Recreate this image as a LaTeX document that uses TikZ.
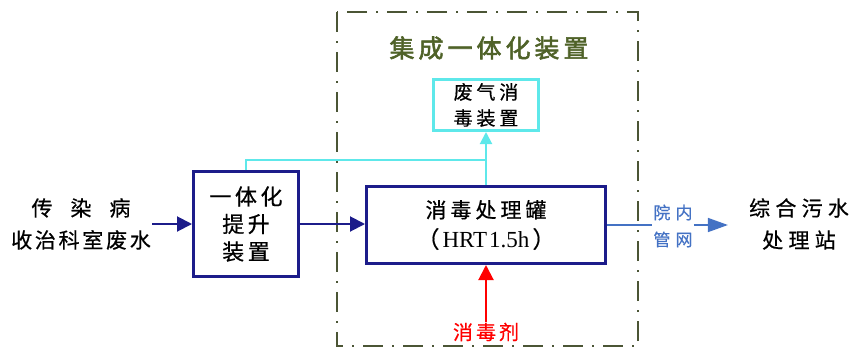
\documentclass[tikz,border=0pt]{standalone}
\usepackage{fontspec}
\setmainfont{Liberation Serif}
\newfontfamily\cjk{Noto Sans CJK SC}[FakeBold=0.6]
\newfontfamily\cjkb{Noto Sans CJK SC}[FakeBold=2.2]
\usetikzlibrary{arrows.meta}
\definecolor{navy}{HTML}{1C1C8A}
\definecolor{cyanc}{HTML}{5EE8EA}
\definecolor{olivec}{HTML}{4F6228}
\definecolor{dashc}{HTML}{4B5535}
\definecolor{pipeb}{HTML}{4472C4}
\definecolor{redc}{HTML}{FF0000}
\newcommand\lsp[1]{\addfontfeature{LetterSpace=#1}}
\begin{document}
\begin{tikzpicture}[x=1pt,y=-1pt,
  txt/.style={align=center,inner sep=1pt},
  navybox/.style={draw=navy,line width=3pt,fill=white,align=center,inner sep=0pt},
  cyanbox/.style={draw=cyanc,line width=3pt,fill=white,align=center,inner sep=0pt},
  navyarrow/.style={draw=navy,line width=2pt,-{Triangle[length=15pt,width=15pt]}},
  cyanline/.style={draw=cyanc,line width=2pt},
  cyanarrow/.style={draw=cyanc,line width=2pt,-{Triangle[length=12pt,width=12pt]}},
  redarrow/.style={draw=redc,line width=2pt,-{Triangle[length=15pt,width=15pt]}},
  bluearrow/.style={draw=pipeb,line width=1.6pt,-{Triangle[length=20pt,width=14pt]}},
  blueline/.style={draw=pipeb,line width=1.6pt},
  frame/.style={draw=dashc,line width=2.5pt,dash pattern=on 20pt off 9pt on 2pt off 9pt}
]
\useasboundingbox (0,0) rectangle (852,349);
% integrated device frame
\draw[frame] (337,12) rectangle (638,346);
\node[txt,text=olivec,font=\cjkb\fontsize{25}{30}\selectfont\lsp{16}] (title) at (489,48) {集成一体化装置};
% nodes
\node[txt,font=\cjk\fontsize{21}{32}\selectfont] (src) at (81,224) {传\hspace{18pt}染\hspace{18pt}病\hspace{18pt}\\{\lsp{13}收治科室废水}};
\node[navybox,minimum width=105pt,minimum height=105pt,font=\cjk\fontsize{22}{27.5}\selectfont\lsp{16}] (lift) at (246,224) {一体化\\提升\\装置};
\node[navybox,minimum width=239pt,minimum height=77pt,font=\fontsize{23}{30}\selectfont] (tank) at (486,225) {{\cjk\fontsize{21}{30}\selectfont\lsp{19}消毒处理罐}\\{\cjk （}\hspace{3pt}HRT\hspace{2pt}1.5h\hspace{3pt}{\cjk ）}};
\node[cyanbox,minimum width=105pt,minimum height=51pt,font=\cjk\fontsize{19}{26}\selectfont\lsp{20}] (gas) at (486,105) {废气消\\毒装置};
\node[txt,text=redc,font=\cjk\fontsize{20}{24}\selectfont\lsp{15}] (agent) at (486,332) {消毒剂};
\node[txt,text=pipeb,font=\cjk\fontsize{17}{27}\selectfont\lsp{30}] (pipe) at (673,226) {院内\\管网};
\node[txt,font=\cjk\fontsize{21}{32}\selectfont\lsp{25}] (dest) at (799,224) {综合污水\\处理站};
\coordinate (jn) at (486,160);
% connectors
\draw[navyarrow] (src.east |- lift.west) -- (lift.west);
\draw[navyarrow] (lift.east) -- (lift.east -| tank.west);
\draw[cyanarrow] (tank) -- (gas);
\draw[cyanline] (lift.north) |- (jn);
\draw[redarrow] (agent.north) -- (agent.north |- tank.south);
\draw[blueline] (tank.east) -- (tank.east -| pipe.west);
\draw[bluearrow,shorten >=20pt] (pipe.east |- tank.east) -- (dest.west |- tank.east);
\end{tikzpicture}
\end{document}
